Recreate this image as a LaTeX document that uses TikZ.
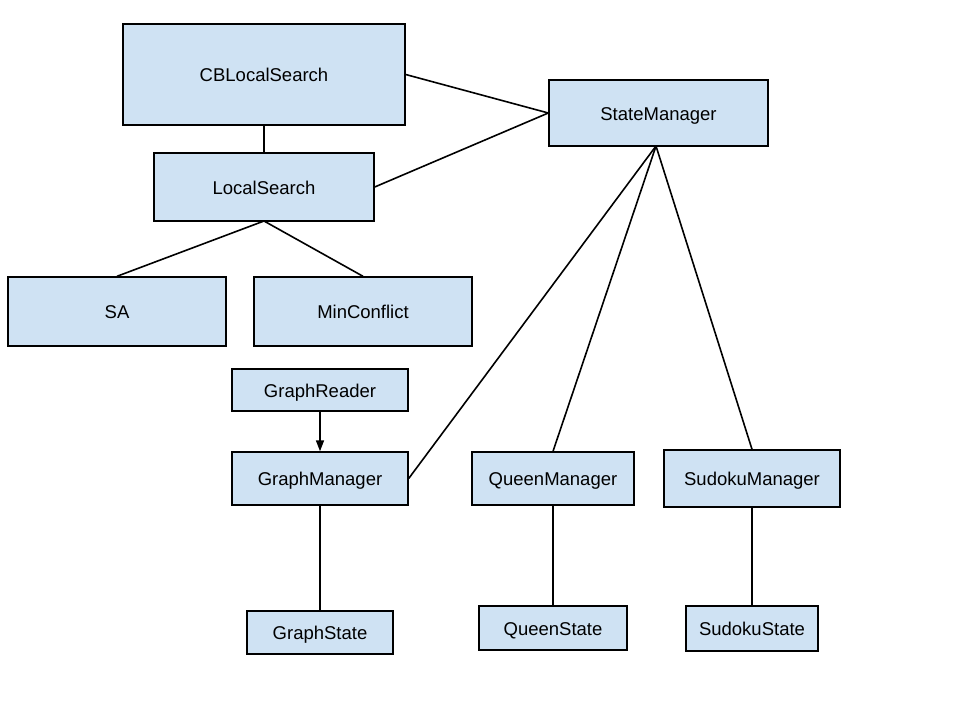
\documentclass[tikz,border=0pt]{standalone}
\usepackage{fontspec}
\setmainfont{Liberation Sans}
\usetikzlibrary{arrows.meta}
\definecolor{boxfill}{HTML}{CFE2F3}
\begin{document}
\begin{tikzpicture}[x=1pt,y=-1pt,
  box/.style={draw=black, line width=1.4pt, fill=boxfill, inner sep=0pt, text height=14.5pt, text depth=0pt, font=\fontsize{18.5}{22}\selectfont},
  link/.style={line width=1.6pt}]
\useasboundingbox (0,0) rectangle (960,720);
\newcommand{\bx}[6]{\node[box, minimum width=#4-#2, minimum height=#5-#3] (#1) at ({(#2+#4)/2},{(#3+#5)/2}) {#6};}
\bx{cb}{123}{24}{405}{125}{CBLocalSearch}
\bx{sm}{549}{80}{768}{146}{StateManager}
\bx{ls}{154}{153}{374}{221}{LocalSearch}
\bx{sa}{8}{277}{226}{346}{SA}
\bx{mc}{254}{277}{472}{346}{MinConflict}
\bx{gr}{232}{369}{408}{411}{GraphReader}
\bx{gm}{232}{452}{408}{505}{GraphManager}
\bx{qm}{472}{452}{634}{505}{QueenManager}
\bx{sdm}{664}{450}{840}{507}{SudokuManager}
\bx{gs}{247}{611}{393}{654}{GraphState}
\bx{qs}{479}{606}{627}{650}{QueenState}
\bx{ss}{686}{606}{818}{651}{SudokuState}
\coordinate (smb) at (656,146);
\coordinate (lsb) at (264,221);
\draw[link] (cb.south) -- (ls.north);
\draw[link] (cb.east) -- (sm.west);
\draw[link] (ls.east) -- (sm.west);
\draw[link] (lsb) -- (sa.north);
\draw[link] (lsb) -- (mc.north);
\draw[link] (smb) -- (gm.east);
\draw[link] (smb) -- (qm.north);
\draw[link] (smb) -- (sdm.north);
\draw[link, -{Triangle[length=11pt,width=8pt]}] (gr.south) -- (gm.north);
\draw[link] (gm.south) -- (gs.north);
\draw[link] (qm.south) -- (qs.north);
\draw[link] (sdm.south) -- (ss.north);
\end{tikzpicture}
\end{document}
